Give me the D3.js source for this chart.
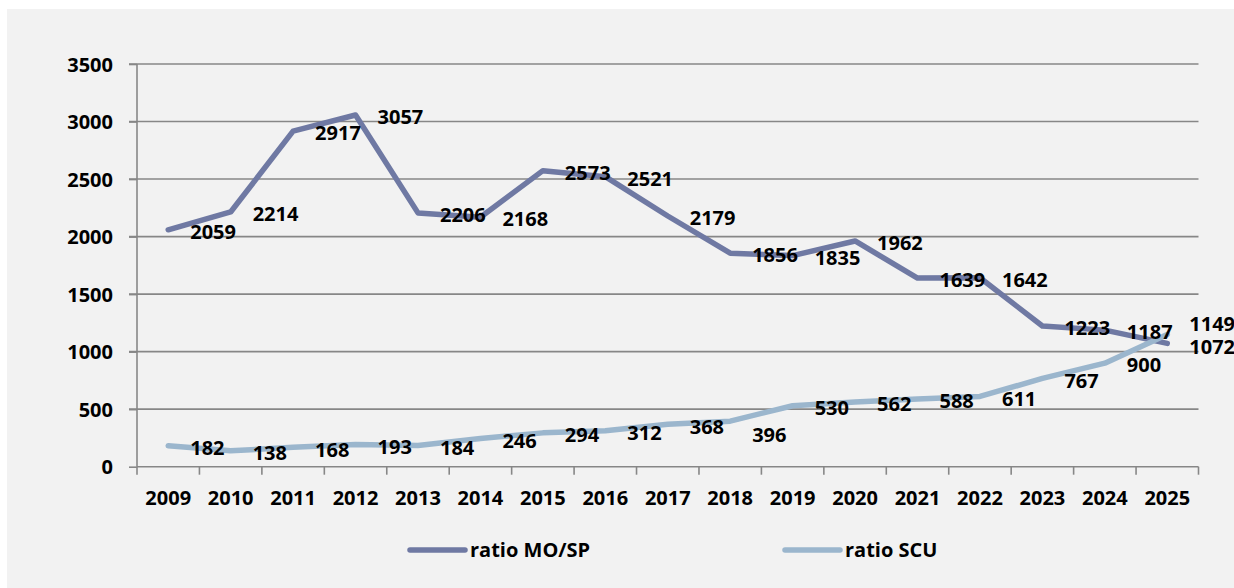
<!DOCTYPE html>
<html>
<head>
<meta charset="utf-8">
<script src="https://cdn.jsdelivr.net/npm/d3@7"></script>
<style>
  html, body { margin: 0; padding: 0; background: #ffffff; }
  svg { display: block; }
  text { font-family: "Open Sans", "Noto Sans", sans-serif; font-weight: 700; fill: #000; }
</style>
</head>
<body>
<svg id="chart" width="1234" height="588"></svg>
<script>
// ---- data ----
const years = ["2009","2010","2011","2012","2013","2014","2015","2016","2017","2018","2019","2020","2021","2022","2023","2024","2025"];
const ratioMOSP = [2059, 2214, 2917, 3057, 2206, 2168, 2573, 2521, 2179, 1856, 1835, 1962, 1639, 1642, 1223, 1187, 1072];
const ratioSCU  = [182, 138, 168, 193, 184, 246, 294, 312, 368, 396, 530, 562, 588, 611, 767, 900, 1149];
const yTicks = [0, 500, 1000, 1500, 2000, 2500, 3000, 3500];
const seriesNames = ["ratio MO/SP", "ratio SCU"];

// ---- styles ----
const colors = ["#6f79a3", "#9bb6cd"];
const gridColor = "#878787";
const fontSize = 20;
// small manual label nudges (px) mimicking the reference's label placement
const labelNudge = { "1-2018": 12, "1-2025": -13, "0-2025": 1 };

const svg = d3.select("#chart");
svg.append("rect").attr("x", 7).attr("y", 9).attr("width", 1234 - 7).attr("height", 588 - 9).attr("fill", "#f2f2f2");

const x = d3.scaleBand().domain(years).range([137, 1198.5]).paddingInner(0).paddingOuter(0);
const y = d3.scaleLinear().domain([0, 3500]).range([466.7, 64]);

// gridlines
svg.append("g").selectAll("line").data(yTicks.filter(v => v > 0)).join("line")
  .attr("x1", 129).attr("x2", x.range()[1])
  .attr("y1", d => y(d)).attr("y2", d => y(d))
  .attr("stroke", gridColor).attr("stroke-width", 1.6);

// y axis
const yAxis = svg.append("g").attr("transform", `translate(${x.range()[0]},0)`)
  .call(d3.axisLeft(y).tickValues(yTicks).tickSize(8).tickPadding(16).tickFormat(d3.format("d")));
yAxis.select(".domain").attr("stroke", gridColor).attr("stroke-width", 1.6)
  .attr("d", `M0,${y(0)}V${y(3500)}`);
yAxis.selectAll(".tick line").attr("stroke", gridColor).attr("stroke-width", 1.6);
yAxis.selectAll(".tick text").attr("font-size", fontSize).attr("font-family", null).attr("dy", "0.36em");

// x axis
const xAxis = svg.append("g").attr("transform", `translate(0,${y(0)})`)
  .call(d3.axisBottom(x).tickSize(0).tickPadding(0));
xAxis.select(".domain").attr("stroke", gridColor).attr("stroke-width", 1.6)
  .attr("d", `M${x.range()[0]},0H${x.range()[1]}`);
xAxis.selectAll(".tick text").attr("font-size", fontSize).attr("font-family", null)
  .attr("y", 38.5).attr("dy", 0);
const edges = years.map(d => x(d)).concat([x.range()[1]]);
xAxis.append("g").selectAll("line").data(edges).join("line")
  .attr("x1", d => d).attr("x2", d => d).attr("y1", 0).attr("y2", 8)
  .attr("stroke", gridColor).attr("stroke-width", 1.6);

// lines
const series = [ratioMOSP, ratioSCU];
const line = d3.line().x((d, i) => x(years[i]) + x.bandwidth() / 2).y(d => y(d));
series.forEach((vals, s) => {
  svg.append("path").datum(vals)
    .attr("d", line)
    .attr("fill", "none")
    .attr("stroke", colors[s])
    .attr("stroke-width", 5.5)
    .attr("stroke-linejoin", "round")
    .attr("stroke-linecap", "round");
});

// data labels
series.forEach((vals, s) => {
  svg.append("g").selectAll("text").data(vals).join("text")
    .attr("x", (d, i) => x(years[i]) + x.bandwidth() / 2 + 22)
    .attr("y", (d, i) => y(d) + 2 + (labelNudge[`${s}-${years[i]}`] || 0))
    .attr("dy", "0.36em")
    .attr("font-size", fontSize)
    .text(d => d);
});

// legend
const legendX = [410, 785];
seriesNames.forEach((name, s) => {
  const g = svg.append("g").attr("transform", `translate(${legendX[s]},550)`);
  g.append("line").attr("x1", 0).attr("x2", 55).attr("y1", 0).attr("y2", 0)
    .attr("stroke", colors[s]).attr("stroke-width", 5.5).attr("stroke-linecap", "round");
  g.append("text").attr("x", 60).attr("y", 0).attr("dy", "0.36em")
    .attr("font-size", fontSize).text(name);
});
</script>
</body>
</html>
